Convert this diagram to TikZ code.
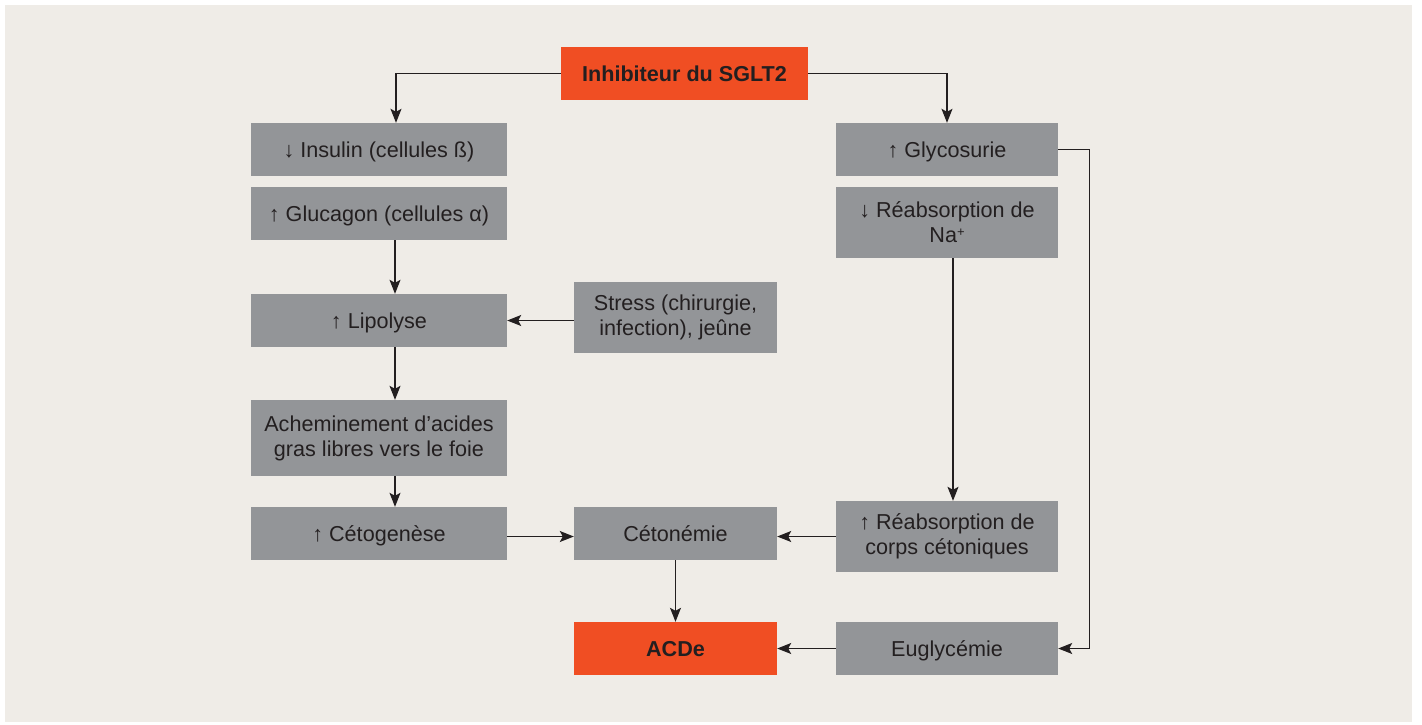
\documentclass[tikz,border=0pt]{standalone}
\usepackage{fontspec}
\setmainfont{Liberation Sans}
\usetikzlibrary{arrows.meta}
\definecolor{bgc}{HTML}{EFECE7}
\definecolor{boxgray}{HTML}{939598}
\definecolor{boxorange}{HTML}{F04E23}
\definecolor{ink}{HTML}{231F20}
\tikzset{
  box/.style={fill=boxgray, draw=none, inner sep=0pt, align=center, text=ink,
    font=\fontsize{21.6}{25}\selectfont},
  onel/.style={box, text height=15.5pt, text depth=0pt},
  hot/.style={onel, fill=boxorange, font=\fontsize{21.6}{25}\selectfont\bfseries},
  arr/.style={draw=ink, line width=1.2pt, -{Stealth[length=14pt,width=11pt,inset=3pt]}}
}
\newcommand{\supplus}{\raisebox{0.55ex}{\fontsize{13}{13}\selectfont +}}
\begin{document}
\begin{tikzpicture}[x=1pt,y=-1pt]
\useasboundingbox (0,0) rectangle (1422,724);
\fill[bgc] (5,5) rectangle (1412,722);

\node[hot, minimum width=247pt, minimum height=53pt] (inh) at (684.5,73.5) {Inhibiteur du SGLT2};

\node[onel, minimum width=256pt, minimum height=53pt] (ins) at (379,149.5) {↓ Insulin (cellules ß)};
\node[onel, minimum width=256pt, minimum height=53pt] (glu) at (379,213.5) {↑ Glucagon (cellules α)};
\node[onel, minimum width=256pt, minimum height=53pt] (lip) at (379,320.5) {↑ Lipolyse};
\node[box, minimum width=256pt, minimum height=76pt] (ach) at (379,438) {Acheminement d’acides\\gras libres vers le foie};
\node[onel, minimum width=256pt, minimum height=53pt] (cet) at (379,533.5) {↑ Cétogenèse};

\node[box, minimum width=203pt, minimum height=71pt] (str) at (675.5,317.5) {Stress (chirurgie,\\infection), jeûne};
\node[onel, minimum width=203pt, minimum height=53pt] (ctn) at (675.5,533.5) {Cétonémie};
\node[hot, minimum width=203pt, minimum height=53pt] (acd) at (675.5,648.5) {ACDe};

\node[onel, minimum width=222pt, minimum height=53pt] (gly) at (947,149.5) {↑ Glycosurie};
\node[box, minimum width=222pt, minimum height=71pt] (na) at (947,222.5) {↓ Réabsorption de\\Na\supplus};
\node[box, minimum width=222pt, minimum height=71pt] (crp) at (947,536.5) {↑ Réabsorption de\\corps cétoniques};
\node[onel, minimum width=222pt, minimum height=53pt] (eug) at (947,648.5) {Euglycémie};

\draw[arr] (inh.west) -| ([xshift=17pt]ins.north);
\draw[arr] (inh.east) -| (gly.north);
\draw[arr] ([xshift=16pt]glu.south) -- ([xshift=16pt]lip.north);
\draw[arr] (lip.east -| str.west) -- (lip.east);
\draw[arr] ([xshift=16pt]lip.south) -- ([xshift=16pt]ach.north);
\draw[arr] ([xshift=16pt]ach.south) -- ([xshift=16pt]cet.north);
\draw[arr] ([yshift=-3pt]cet.east) -- ([yshift=-3pt]ctn.west);
\draw[arr] (crp.west) -- (crp.west -| ctn.east);
\draw[arr] (ctn.south) -- (acd.north);
\draw[arr] (eug.west) -- (eug.west -| acd.east);
\draw[arr] ([xshift=6pt]na.south) -- ([xshift=6pt]crp.north);
\draw[arr] (gly.east) -- ++(31,0) |- (eug.east);
\end{tikzpicture}
\end{document}
